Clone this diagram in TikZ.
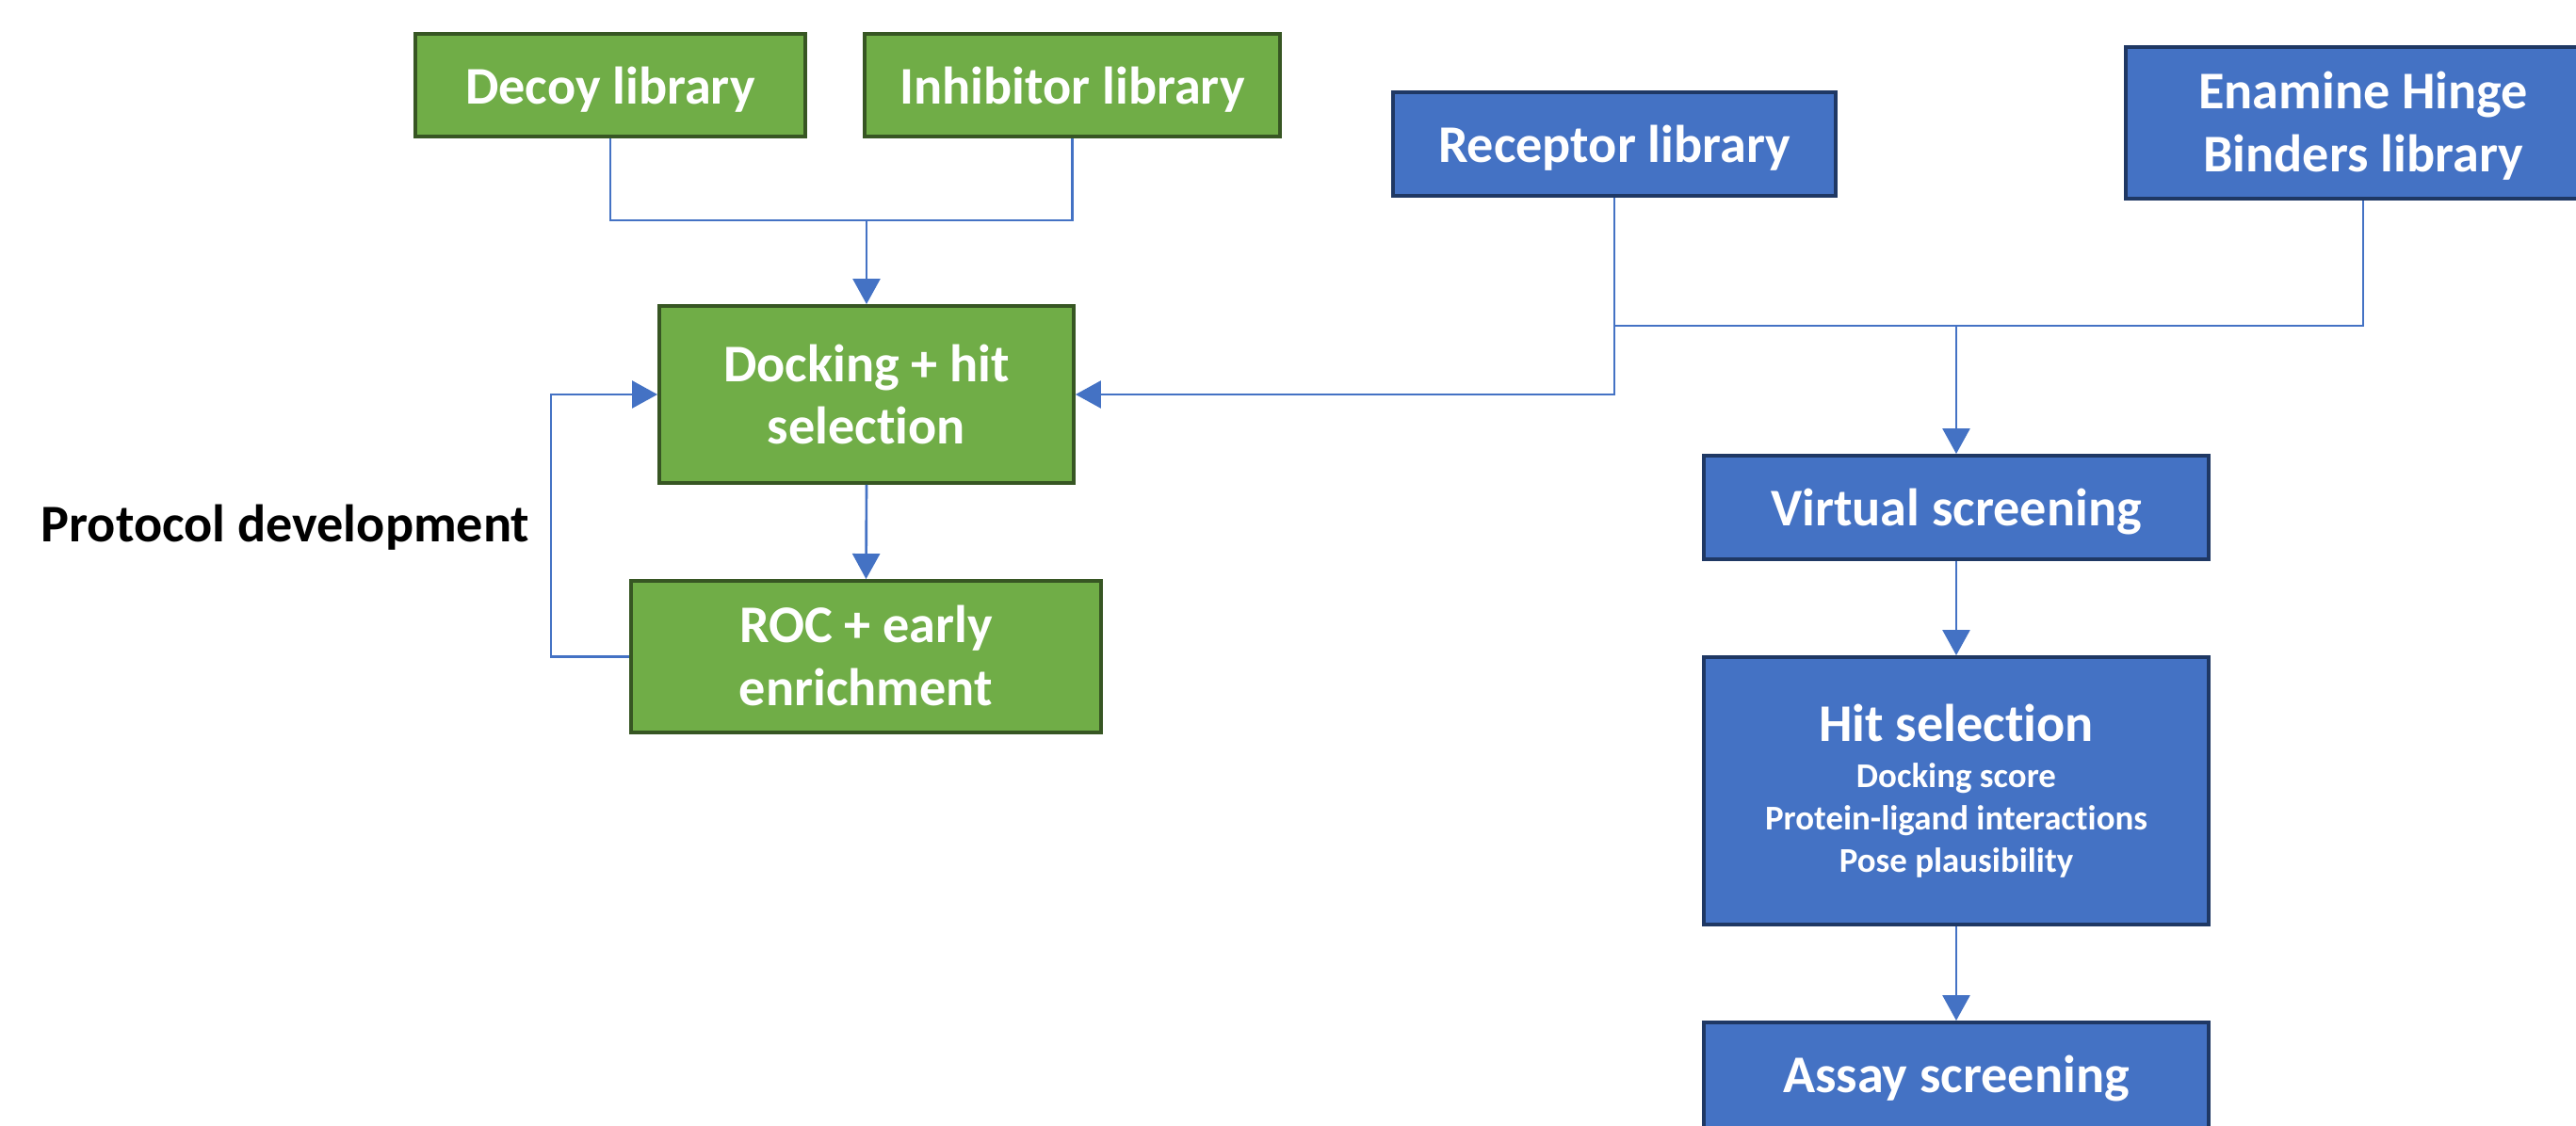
\documentclass[tikz,border=0pt]{standalone}
\usepackage{fontspec}
\setmainfont[Ligatures={NoCommon}]{Carlito}
\usetikzlibrary{arrows.meta}
\definecolor{gfill}{HTML}{70AD47}
\definecolor{gdraw}{HTML}{375623}
\definecolor{bfill}{HTML}{4472C4}
\definecolor{bdraw}{HTML}{1F3864}
\definecolor{lineblue}{HTML}{4472C4}
\newcommand\shiftdown[2]{\raisebox{-#1}[\height][\depth]{#2}}
\newcommand\twolines[2]{\begin{tabular}{@{}c@{}}#1\\#2\end{tabular}}
\tikzset{
  box/.style={rectangle, inner sep=0pt, line width=1.1pt, align=center, text=white,
    font=\fontsize{16}{19}\selectfont\bfseries},
  gbox/.style={box, fill=gfill, draw=gdraw},
  bbox/.style={box, fill=bfill, draw=bdraw},
  conn/.style={draw=lineblue, line width=0.75pt},
  arr/.style={conn, -{Triangle[width=0.29cm,length=0.27cm]}},
}
\begin{document}
\begin{tikzpicture}
\useasboundingbox (0,0) rectangle (27.35,-11.96);
\clip (0,0) rectangle (27.35,-11.96);
\fill[white] (0,0) rectangle (27.35,-11.96);

% green column
\node[gbox, minimum width=4.14cm, minimum height=1.09cm] (decoy) at (6.48,-0.905) {\shiftdown{0.05cm}{Decoy library}};
\node[gbox, minimum width=4.41cm, minimum height=1.09cm] (inhib) at (11.385,-0.905) {\shiftdown{0.05cm}{Inhibitor library}};
\node[gbox, minimum width=4.40cm, minimum height=1.88cm] (dock) at (9.20,-4.19) {Docking + hit\\selection};
\node[gbox, minimum width=4.99cm, minimum height=1.61cm] (roc) at (9.195,-6.975) {\shiftdown{0.05cm}{\twolines{ROC + early}{enrichment}}};

% blue column
\node[bbox, minimum width=4.70cm, minimum height=1.10cm] (rec) at (17.14,-1.53) {\shiftdown{0.04cm}{Receptor library}};
\node[bbox, minimum width=5.04cm, minimum height=1.61cm] (ena) at (25.09,-1.305) {\shiftdown{0.05cm}{\twolines{Enamine Hinge}{Binders library}}};
\node[bbox, minimum width=5.36cm, minimum height=1.10cm] (vs) at (20.77,-5.39) {\shiftdown{0.05cm}{Virtual screening}};
\node[bbox, minimum width=5.36cm, minimum height=2.84cm, font=\fontsize{10.5}{12.8}\selectfont\bfseries] (hit) at (20.77,-8.40)
  {\shiftdown{0.04cm}{\begin{tabular}{@{}c@{}}{\fontsize{16}{19}\selectfont Hit selection}\\[1.4pt]Docking score\\Protein-ligand interactions\\Pose plausibility\end{tabular}}};
\node[bbox, minimum width=5.36cm, minimum height=1.12cm] (assay) at (20.77,-11.42) {\shiftdown{0.04cm}{Assay screening}};

\node[font=\fontsize{16}{19}\selectfont\bfseries, text=black, inner sep=0pt] (proto) at (3.03,-5.60) {Protocol development};

% connectors
\coordinate (join1) at (9.20,-2.34);
\draw[conn] (decoy.south) |- (join1) -| (inhib.south);
\draw[arr] (join1) -- (dock.north);
\draw[arr] (dock.south) -- (roc.north);
\draw[arr] (roc.west) -- ++(-0.83,0) |- (dock.west);

\coordinate (rjoin) at (20.77,-3.46);
\draw[arr] (rec.south) |- (dock.east);
\draw[conn] (rec.south |- rjoin) -| (ena.south);
\draw[arr] (rjoin) -- (vs.north);
\draw[arr] (vs.south) -- (hit.north);
\draw[arr] (hit.south) -- (assay.north);
\end{tikzpicture}
\end{document}
